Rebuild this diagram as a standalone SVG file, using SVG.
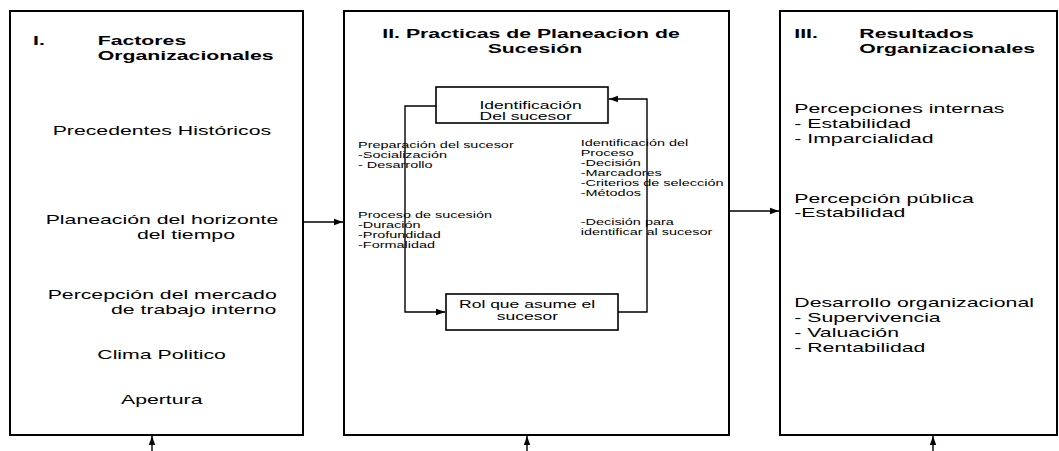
<svg xmlns="http://www.w3.org/2000/svg" width="1059" height="451" viewBox="0 0 1059 451">
<style>
text{font-family:"Liberation Sans",Arial,sans-serif;fill:#000}
.b{font-weight:bold;font-size:12.5px}
.r{font-size:12.5px}
.s{font-size:8.5px}
.m{font-size:10.3px}
.box{fill:#fff;stroke:#000;stroke-width:2}
.ibox{fill:#fff;stroke:#000;stroke-width:1.6}
.c{fill:none;stroke:#000;stroke-width:1.4;marker-end:url(#ah)}
</style>
<defs>
<marker id="ah" markerUnits="userSpaceOnUse" markerWidth="10" markerHeight="8" refX="9" refY="4" orient="auto">
<path d="M0,0.8 L9,4 L0,7.2 Z" fill="#000"/>
</marker>
</defs>
<rect width="1059" height="451" fill="#fff"/>
<g id="n1">
<rect class="box" x="10" y="11" width="293" height="424"/>
<text class="b" transform="matrix(1.7 0 0 1 33 45)">I.</text>
<text class="b" transform="matrix(1.7 0 0 1 97.7 45)">Factores</text>
<text class="b" transform="matrix(1.7 0 0 1 97.7 60)">Organizacionales</text>
<text class="r" transform="matrix(1.7 0 0 1 52.7 135)">Precedentes Históricos</text>
<text class="r" transform="matrix(1.7 0 0 1 45.7 224)">Planeación del horizonte</text>
<text class="r" transform="matrix(1.7 0 0 1 137 239)">del tiempo</text>
<text class="r" transform="matrix(1.7 0 0 1 47.7 299)">Percepción del mercado</text>
<text class="r" transform="matrix(1.7 0 0 1 111 314)">de trabajo interno</text>
<text class="r" transform="matrix(1.7 0 0 1 97.3 358.5)">Clima Politico</text>
<text class="r" transform="matrix(1.7 0 0 1 121 404)">Apertura</text>
</g>
<g id="n2">
<rect class="box" x="344" y="11" width="385" height="424"/>
<text class="b" transform="matrix(1.7 0 0 1 382.3 38.3)">II. Practicas de Planeacion de</text>
<text class="b" transform="matrix(1.7 0 0 1 487.7 53.3)">Sucesión</text>
<text class="s" transform="matrix(1.7 0 0 1 358 148)">Preparación del sucesor</text>
<text class="s" transform="matrix(1.7 0 0 1 358 158)">-Socialización</text>
<text class="s" transform="matrix(1.7 0 0 1 358 168.3)">- Desarrollo</text>
<text class="s" transform="matrix(1.7 0 0 1 358 218)">Proceso de sucesión</text>
<text class="s" transform="matrix(1.7 0 0 1 358 228)">-Duración</text>
<text class="s" transform="matrix(1.7 0 0 1 358 238)">-Profundidad</text>
<text class="s" transform="matrix(1.7 0 0 1 358 248)">-Formalidad</text>
<text class="s" transform="matrix(1.7 0 0 1 580.7 145.5)">Identificación del</text>
<text class="s" transform="matrix(1.7 0 0 1 580.7 155.5)">Proceso</text>
<text class="s" transform="matrix(1.7 0 0 1 580.7 165.5)">-Decisión</text>
<text class="s" transform="matrix(1.7 0 0 1 580.7 175.5)">-Marcadores</text>
<text class="s" transform="matrix(1.7 0 0 1 580.7 185.5)">-Criterios de selección</text>
<text class="s" transform="matrix(1.7 0 0 1 580.7 195.5)">-Métodos</text>
<text class="s" transform="matrix(1.7 0 0 1 580.7 225)">-Decisión para</text>
<text class="s" transform="matrix(1.7 0 0 1 580.7 235)">identificar al sucesor</text>
</g>
<g id="n2a">
<rect class="ibox" x="436" y="87" width="172" height="36"/>
<text class="m" transform="matrix(1.7 0 0 1 479.5 108.5)">Identificación</text>
<text class="m" transform="matrix(1.7 0 0 1 479.5 120)">Del sucesor</text>
</g>
<g id="n2b">
<rect class="ibox" x="446" y="294" width="172" height="36"/>
<text class="m" transform="matrix(1.7 0 0 1 459 308.3)">Rol que asume el</text>
<text class="m" transform="matrix(1.7 0 0 1 496.7 320)">sucesor</text>
</g>
<g id="n3">
<rect class="box" x="780" y="11" width="277" height="424"/>
<text class="b" transform="matrix(1.7 0 0 1 794.3 38.3)">III.</text>
<text class="b" transform="matrix(1.7 0 0 1 859.3 38.3)">Resultados</text>
<text class="b" transform="matrix(1.7 0 0 1 859.3 53.3)">Organizacionales</text>
<text class="r" transform="matrix(1.7 0 0 1 794.3 113.3)">Percepciones internas</text>
<text class="r" transform="matrix(1.7 0 0 1 794.3 128.3)">- Estabilidad</text>
<text class="r" transform="matrix(1.7 0 0 1 794.3 143.3)">- Imparcialidad</text>
<text class="r" transform="matrix(1.7 0 0 1 794.3 202.7)">Percepción pública</text>
<text class="r" transform="matrix(1.7 0 0 1 794.3 217.3)">-Estabilidad</text>
<text class="r" transform="matrix(1.7 0 0 1 794.3 306.7)">Desarrollo organizacional</text>
<text class="r" transform="matrix(1.7 0 0 1 794.3 322.3)">- Supervivencia</text>
<text class="r" transform="matrix(1.7 0 0 1 794.3 337.3)">- Valuación</text>
<text class="r" transform="matrix(1.7 0 0 1 794.3 352.3)">- Rentabilidad</text>
</g>
<g id="connectors">
<path class="c" d="M303,222 L343,222"/>
<path class="c" d="M729,211 L779,211"/>
<path class="c" d="M152,451 L152,436"/>
<path class="c" d="M527,451 L527,436"/>
<path class="c" d="M933,451 L933,436"/>
<path class="c" d="M436,106 L405,106 L405,312 L445,312"/>
<path class="c" d="M618,312 L647,312 L647,99 L609,99"/>
</g>
</svg>
